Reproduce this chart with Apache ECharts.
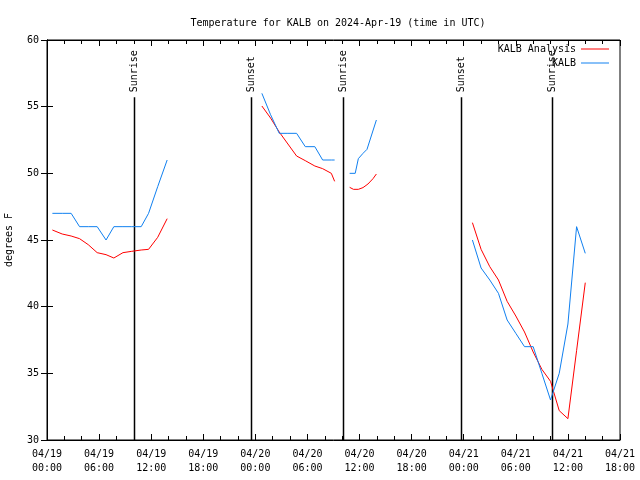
<!DOCTYPE html>
<html><head><meta charset="utf-8">
<script src="https://cdn.jsdelivr.net/npm/echarts@6/dist/echarts.min.js"></script>
<style>html,body{margin:0;padding:0;background:#fff}#c{width:640px;height:480px}</style>
</head><body><div id="c"></div>
<script>
// X axis: hours since 2024-04-19 00:00 UTC
const xTickLabels = ['04/19\n00:00','04/19\n06:00','04/19\n12:00','04/19\n18:00','04/20\n00:00','04/20\n06:00','04/20\n12:00','04/20\n18:00','04/21\n00:00','04/21\n06:00','04/21\n12:00','04/21\n18:00'];

// KALB Analysis (red)
const anaT1 = [0.62,1.75,2.78,3.75,4.75,5.78,6.8,7.7,8.75,9.75,10.85,11.7,12.75,13.84];
const anaV1 = [45.75,45.45,45.3,45.1,44.65,44.05,43.9,43.65,44.05,44.15,44.25,44.3,45.2,46.6];
const anaT2 = [24.75,25.75,26.75,27.75,28.75,29.75,30.85,31.75,32.75,33.13];
const anaV2 = [55.05,54.15,53.1,52.2,51.3,50.95,50.55,50.35,50.0,49.4];
const anaT3 = [34.86,35.3,35.86,36.4,36.97,37.55,37.94];
const anaV3 = [48.95,48.8,48.8,48.93,49.2,49.6,49.95];
const anaT4 = [49,50,51,52,53,54,55,56,57,58,59,60,61,62];
const anaV4 = [46.3,44.3,43.0,42.0,40.4,39.3,38.1,36.6,35.3,34.4,32.2,31.6,36.7,41.8];

// KALB observations (blue)
const obsT1 = [0.62,1.75,2.78,3.75,4.75,5.78,6.8,7.7,8.75,9.75,10.85,11.7,12.75,13.84];
const obsV1 = [47,47,47,46,46,46,45,46,46,46,46,47,49,51];
const obsT2 = [24.75,25.75,26.75,27.75,28.75,29.75,30.85,31.75,32.75,33.13];
const obsV2 = [56,54.4,53,53,53,52,52,51,51,51];
const obsT3 = [34.86,35.5,35.86,36.4,36.86,37.94];
const obsV3 = [50,50,51.1,51.5,51.8,54];
const obsT4 = [49,50,51,52,53,54,55,56,57,58,59,60,61,62];
const obsV4 = [45,42.9,42.0,41.0,39.0,38.0,37,37,35,33,35,38.7,46,44];

// Sunrise / sunset markers
const eventTimes = [10.05,23.55,34.15,47.67,58.15];
const eventLabels = ['Sunrise','Sunset','Sunrise','Sunset','Sunrise'];

const FONT = 'DejaVu Sans Mono';
const RED = '#ff0000', BLUE = '#1080f0';
const zip = (t, v) => t.map((x, i) => [x, v[i]]);

function lineSeries(name, color, t, v) {
  return {
    type: 'line', name: name, data: zip(t, v), symbol: 'none', showSymbol: false,
    lineStyle: { color: color, width: 1 }, itemStyle: { color: color },
    xAxisIndex: 0, yAxisIndex: 0, animation: false, z: 3
  };
}

const chart = echarts.init(document.getElementById('c'), null, { renderer: 'canvas' });
const option = {
  animation: false,
  backgroundColor: '#fff',
  title: {
    text: 'Temperature for KALB on 2024-Apr-19 (time in UTC)',
    left: 333, top: 13, textAlign: 'center',
    textStyle: { fontFamily: FONT, fontSize: 10, fontWeight: 'normal', color: '#000' }
  },
  legend: {
    orient: 'vertical', right: 26, top: 38, align: 'right',
    icon: 'rect', itemWidth: 28, itemHeight: 1, itemGap: 2,
    textStyle: { fontFamily: FONT, fontSize: 10, color: '#000', lineHeight: 12 },
    data: [
      { name: 'KALB Analysis', itemStyle: { color: RED } },
      { name: 'KALB', itemStyle: { color: BLUE } }
    ]
  },
  grid: { left: 47, right: 20, top: 40, bottom: 40, show: true, borderColor: '#000', borderWidth: 1,
          outerBoundsMode: 'none', containLabel: false },
  xAxis: [{
    type: 'value', min: 0, max: 66, interval: 6,
    axisLine: { show: true, lineStyle: { color: '#000' } },
    axisTick: { show: true, inside: true, length: 6, lineStyle: { color: '#000' } },
    minorTick: { show: true, splitNumber: 3, length: 4, lineStyle: { color: '#000' } },
    splitLine: { show: false },
    axisLabel: {
      fontFamily: FONT, fontSize: 10, color: '#000', lineHeight: 14, margin: 7,
      formatter: v => xTickLabels[Math.round(v / 6)] || ''
    }
  }, {
    type: 'value', min: 0, max: 66, interval: 6, position: 'top',
    axisLine: { show: true, lineStyle: { color: '#000' } },
    axisTick: { show: true, inside: true, length: 6, lineStyle: { color: '#000' } },
    minorTick: { show: true, splitNumber: 3, length: 4, lineStyle: { color: '#000' } },
    splitLine: { show: false }, axisLabel: { show: false }
  }],
  yAxis: [{
    type: 'value', min: 30, max: 60, interval: 5,
    name: 'degrees F', nameLocation: 'middle', nameGap: 33,
    nameTextStyle: { fontFamily: FONT, fontSize: 10, color: '#000' },
    axisLine: { show: true, lineStyle: { color: '#000' } },
    axisTick: { show: true, inside: true, length: 6, lineStyle: { color: '#000' } },
    splitLine: { show: false },
    axisLabel: { fontFamily: FONT, fontSize: 10, color: '#000', margin: 8 }
  }, {
    type: 'value', min: 30, max: 60, interval: 5, position: 'right',
    axisLine: { show: true, lineStyle: { color: '#000' } },
    axisTick: { show: true, inside: true, length: 6, lineStyle: { color: '#000' } },
    splitLine: { show: false }, axisLabel: { show: false }
  }],
  series: [
    lineSeries('KALB Analysis', RED, anaT1, anaV1),
    lineSeries('KALB Analysis', RED, anaT2, anaV2),
    lineSeries('KALB Analysis', RED, anaT3, anaV3),
    lineSeries('KALB Analysis', RED, anaT4, anaV4),
    lineSeries('KALB', BLUE, obsT1, obsV1),
    lineSeries('KALB', BLUE, obsT2, obsV2),
    lineSeries('KALB', BLUE, obsT3, obsV3),
    lineSeries('KALB', BLUE, obsT4, obsV4),
    {
      type: 'custom', name: 'events', xAxisIndex: 0, yAxisIndex: 0, z: 2,
      data: eventTimes.map(t => [t]),
      renderItem: function (params, api) {
        const t = api.value(0);
        const bottom = api.coord([t, 30]);
        const top = api.coord([t, 55.7]);
        const x = Math.round(bottom[0]) + 0.5;
        return {
          type: 'group',
          children: [
            { type: 'line', shape: { x1: x, y1: bottom[1], x2: x, y2: top[1] },
              style: { stroke: '#000', lineWidth: 1.5 } },
            { type: 'text', x: x, y: top[1] - 5, rotation: Math.PI / 2,
              style: { text: eventLabels[params.dataIndex], fill: '#000',
                font: '10px "' + FONT + '"', align: 'left', verticalAlign: 'middle' } }
          ]
        };
      }
    }
  ]
};
chart.setOption(option);
</script>
</body></html>
